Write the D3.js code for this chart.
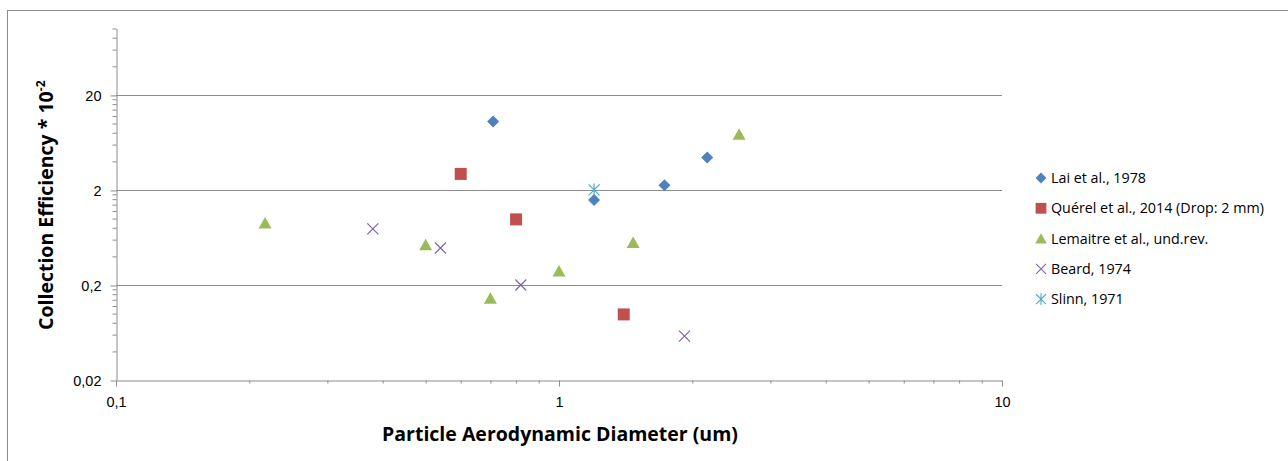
<!DOCTYPE html>
<html>
<head>
<meta charset="utf-8">
<script src="https://cdn.jsdelivr.net/npm/d3@7"></script>
<style>
  body { margin: 0; background: #fff; }
  svg { display: block; font-family: 'Open Sans', sans-serif; }
  .axis path, .axis line { stroke: #8c8c8c; }
  .axis text { fill: #000; font-size: 14.5px; }
</style>
</head>
<body>
<div id="chart"></div>
<script>
// Series data (x = diameter in um, y = collection efficiency * 10^-2)
const laiX = [0.71, 1.2, 1.73, 2.16];
const laiY = [10.5, 1.57, 2.24, 4.4];
const querelX = [0.6, 0.8, 1.4];
const querelY = [2.95, 0.98, 0.098];
const lemaitreX = [0.217, 0.5, 0.7, 1.0, 1.47, 2.55];
const lemaitreY = [0.9, 0.53, 0.145, 0.28, 0.56, 7.7];
const beardX = [0.38, 0.54, 0.82, 1.92];
const beardY = [0.78, 0.49, 0.2, 0.058];
const slinnX = [1.2];
const slinnY = [2.0];

const seriesNames = ['Lai et al., 1978', 'Quérel et al., 2014 (Drop: 2 mm)', 'Lemaitre et al., und.rev.', 'Beard, 1974', 'Slinn, 1971'];

// Axis ticks
const xMajor = [0.1, 1, 10];
const xMajorLabels = ['0,1', '1', '10'];
const yMajor = [0.02, 0.2, 2, 20];
const yMajorLabels = ['0,02', '0,2', '2', '20'];
const xDomain = [0.1, 10];
const yDomain = [0.02, 100];

const W = 1288, H = 461;
const plot = { left: 116, right: 1002, top: 28.5, bottom: 380 };

const svg = d3.select('#chart').append('svg')
  .attr('width', W).attr('height', H);

// chart frame (only left and top edges visible)
svg.append('rect')
  .attr('x', 7.5).attr('y', 10.5)
  .attr('width', W).attr('height', H)
  .attr('fill', 'none').attr('stroke', '#8c8c8c');

const x = d3.scaleLog().domain(xDomain).range([plot.left, plot.right]);
const y = d3.scaleLog().domain(yDomain).range([plot.bottom, plot.top]);

// minor ticks: k * base within domain
function minors(majors, domain) {
  const out = [];
  majors.forEach((b) => {
    for (let k = 2; k <= 9; k++) {
      const v = b * k;
      if (v <= domain[1] * 1.0001) out.push(v);
    }
  });
  return out;
}

// horizontal gridlines at major y values
svg.append('g')
  .selectAll('line')
  .data(yMajor.slice(1))
  .enter()
  .append('line')
  .attr('x1', plot.left).attr('x2', plot.right)
  .attr('y1', (d) => Math.round(y(d)) + 0.5)
  .attr('y2', (d) => Math.round(y(d)) + 0.5)
  .attr('stroke', '#8c8c8c');

// y axis
const yAxisG = svg.append('g')
  .attr('class', 'axis')
  .attr('transform', `translate(${plot.left + 0.5},0)`)
  .call(d3.axisLeft(y).tickValues(yMajor).tickSize(6).tickSizeOuter(0)
    .tickFormat((d, i) => yMajorLabels[i]).tickPadding(9));
yAxisG.selectAll('.tick line').attr('transform', 'translate(0,0.5)');
yAxisG.selectAll('.tick text').attr('dy', '0.4em');
svg.append('g')
  .attr('class', 'axis')
  .attr('transform', `translate(${plot.left + 0.5},0)`)
  .call(d3.axisLeft(y).tickValues(minors(yMajor, yDomain)).tickSize(4).tickSizeOuter(0).tickFormat(''))
  .select('.domain').remove();

// x axis
svg.append('g')
  .attr('class', 'axis')
  .attr('transform', `translate(0,${plot.bottom + 0.5})`)
  .call(d3.axisBottom(x).tickValues(xMajor).tickSize(6).tickSizeOuter(0)
    .tickFormat((d, i) => xMajorLabels[i]).tickPadding(10));
svg.append('g')
  .attr('class', 'axis')
  .attr('transform', `translate(0,${plot.bottom + 0.5})`)
  .call(d3.axisBottom(x).tickValues(minors([0.1, 1], xDomain).filter((v) => v < 10)).tickSize(3).tickSizeOuter(0).tickFormat(''))
  .select('.domain').remove();

// axis titles
svg.append('text')
  .attr('x', (plot.left + plot.right) / 2 + 1)
  .attr('y', 441)
  .attr('text-anchor', 'middle')
  .attr('font-weight', 'bold')
  .attr('font-size', '19.5px')
  .text('Particle Aerodynamic Diameter (um)');

const yTitle = svg.append('text')
  .attr('transform', `translate(53,${(plot.top + plot.bottom) / 2 + 1}) rotate(-90)`)
  .attr('text-anchor', 'middle')
  .attr('font-weight', 'bold')
  .attr('font-size', '19.5px');
yTitle.append('tspan').text('Collection Efficiency * 10');
yTitle.append('tspan').attr('font-size', '12px').attr('dy', '-8').text('-2');

// marker shapes, drawn around (0,0)
const markers = {
  diamond: (g, c) => g.append('path').attr('d', 'M0,-6L6,0L0,6L-6,0Z').attr('fill', c),
  square: (g, c) => g.append('rect').attr('x', -6).attr('y', -6).attr('width', 12).attr('height', 12).attr('fill', c),
  triangle: (g, c) => g.append('path').attr('d', 'M0,-6L6.5,5.5L-6.5,5.5Z').attr('fill', c),
  cross: (g, c) => g.append('path').attr('d', 'M-5.5,-5.5L5.5,5.5M-5.5,5.5L5.5,-5.5').attr('stroke', c).attr('stroke-width', 1.2).attr('fill', 'none'),
  star: (g, c) => g.append('path').attr('d', 'M-5.5,-5.5L5.5,5.5M-5.5,5.5L5.5,-5.5M0,-6.5L0,6.5').attr('stroke', c).attr('stroke-width', 1.2).attr('fill', 'none')
};

const series = [
  { name: seriesNames[0], xs: laiX, ys: laiY, shape: 'diamond', color: '#4f81bd' },
  { name: seriesNames[1], xs: querelX, ys: querelY, shape: 'square', color: '#c0504d' },
  { name: seriesNames[2], xs: lemaitreX, ys: lemaitreY, shape: 'triangle', color: '#9bbb59' },
  { name: seriesNames[3], xs: beardX, ys: beardY, shape: 'cross', color: '#8064a2' },
  { name: seriesNames[4], xs: slinnX, ys: slinnY, shape: 'star', color: '#4bacc6' }
];

// draw points
series.forEach((s) => {
  s.xs.forEach((xv, i) => {
    const g = svg.append('g')
      .attr('transform', `translate(${x(xv)},${y(s.ys[i])})`);
    markers[s.shape](g, s.color);
  });
});

// legend
const legend = svg.append('g').attr('transform', 'translate(1041,178)');
series.forEach((s, i) => {
  const row = legend.append('g').attr('transform', `translate(0,${i * 30.3})`);
  const m = row.append('g').attr('transform', 'scale(0.9)');
  markers[s.shape](m, s.color);
  row.append('text')
    .attr('x', 10)
    .attr('y', 5)
    .attr('font-size', '14.3px')
    .attr('fill', '#000')
    .text(s.name);
});
</script>
</body>
</html>
